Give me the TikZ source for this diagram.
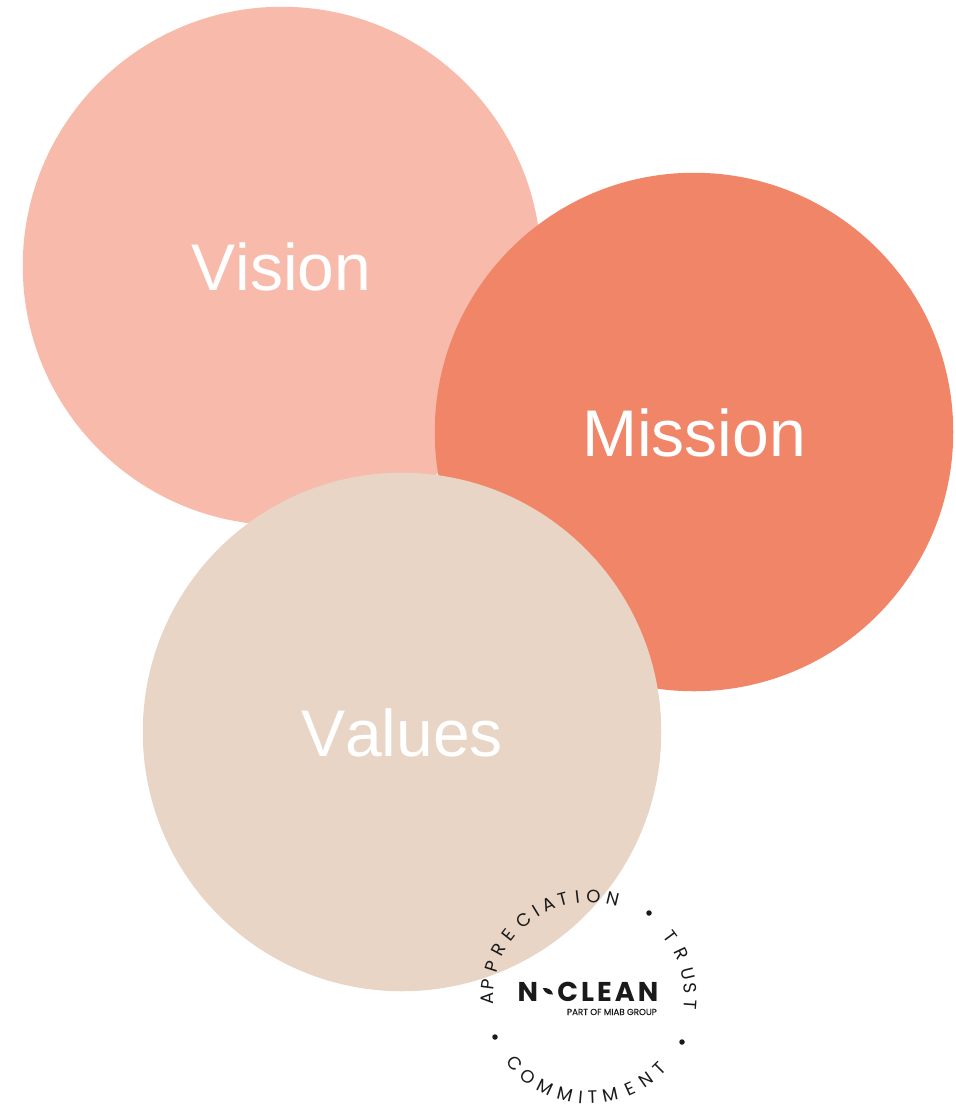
\documentclass[tikz,border=0pt]{standalone}
\usepackage{fontspec}
\setmainfont[Kerning=Off]{Liberation Sans}
\newfontfamily\ringfont{Poppins}
\newfontfamily\logofont[LetterSpace=11]{Poppins}
\newfontfamily\tagfont[FakeBold=0.3]{Poppins}
\definecolor{visioncol}{HTML}{F8BBAB}
\definecolor{missioncol}{HTML}{F08568}
\definecolor{valuescol}{HTML}{E8D5C5}
\definecolor{inkcol}{HTML}{1A1A1A}
\tikzset{
  bigcircle/.style={circle,inner sep=0pt,minimum size=518.5pt},
  biglabel/.style={inner sep=0pt,anchor=base,text=white,font=\fontsize{66}{70}\selectfont},
  ringletter/.style={inner sep=0pt,text=inkcol,font=\ringfont\fontsize{18}{19}\selectfont},
  ringdot/.style={circle,fill=inkcol,inner sep=0pt,minimum size=5.5pt},
  logotext/.style={inner sep=0pt,text=inkcol,font=\logofont\bfseries\fontsize{27.2}{28}\selectfont},
}
\begin{document}
\begin{tikzpicture}[x=1pt,y=-1pt]
\useasboundingbox (0,0) rectangle (956,1104);
\node[bigcircle,fill=visioncol] (vision) at (282,266) {};
\node[bigcircle,fill=missioncol] (mission) at (694,432) {};
\node[bigcircle,fill=valuescol] (values) at (402,732) {};
\node[biglabel] (visionlabel) at (281.5,290.7) {Vision};
\node[biglabel] (missionlabel) at (694,456.7) {Mission};
\node[biglabel] (valueslabel) at (402,756.7) {Values};
% ring letters, top half
\foreach \a/\l [count=\i] in {180/A,172.6/P,162.3/P,152/R,142/E,130/C,121.4/I,113.6/A,105/T,96.5/I,87.5/O,76.6/N,36.8/T,25.5/R,13.7/U,5.3/S,-3.9/T}
  \node[ringletter,rotate={\a-90}] (top\i) at ({589+102*cos(\a)},{998-102*sin(\a)}) {\l};
% ring letters, bottom half
\foreach \a/\l [count=\i] in {-138.5/C,-127.6/O,-116/M,-104/M,-94.8/I,-88/T,-77.8/M,-65.6/E,-55/N,-45/T}
  \node[ringletter,rotate={\a+90}] (bot\i) at ({589+99.5*cos(\a)},{998-99.5*sin(\a)}) {\l};
\node[ringdot] (dot1) at (649,913) {};
\node[ringdot] (dot2) at (682,1042) {};
\node[ringdot] (dot3) at (495,1037) {};
% logo
\node[logotext,anchor=base west] (logoN) at (517.5,1001) {N};
\fill[inkcol] (542.7,988) .. controls (547,987.5) and (552,989) .. (553,994.5) .. controls (549,995) and (544.5,993) .. (542.7,988) -- cycle;
\node[logotext,anchor=base east] (logoC) at (658.5,1001) {CLEAN};
\node[inner sep=0pt,anchor=base east,text=inkcol,font=\tagfont\fontsize{8.7}{9}\selectfont] (logoP) at (657,1015) {PART OF MIAB GROUP};
\end{tikzpicture}
\end{document}
